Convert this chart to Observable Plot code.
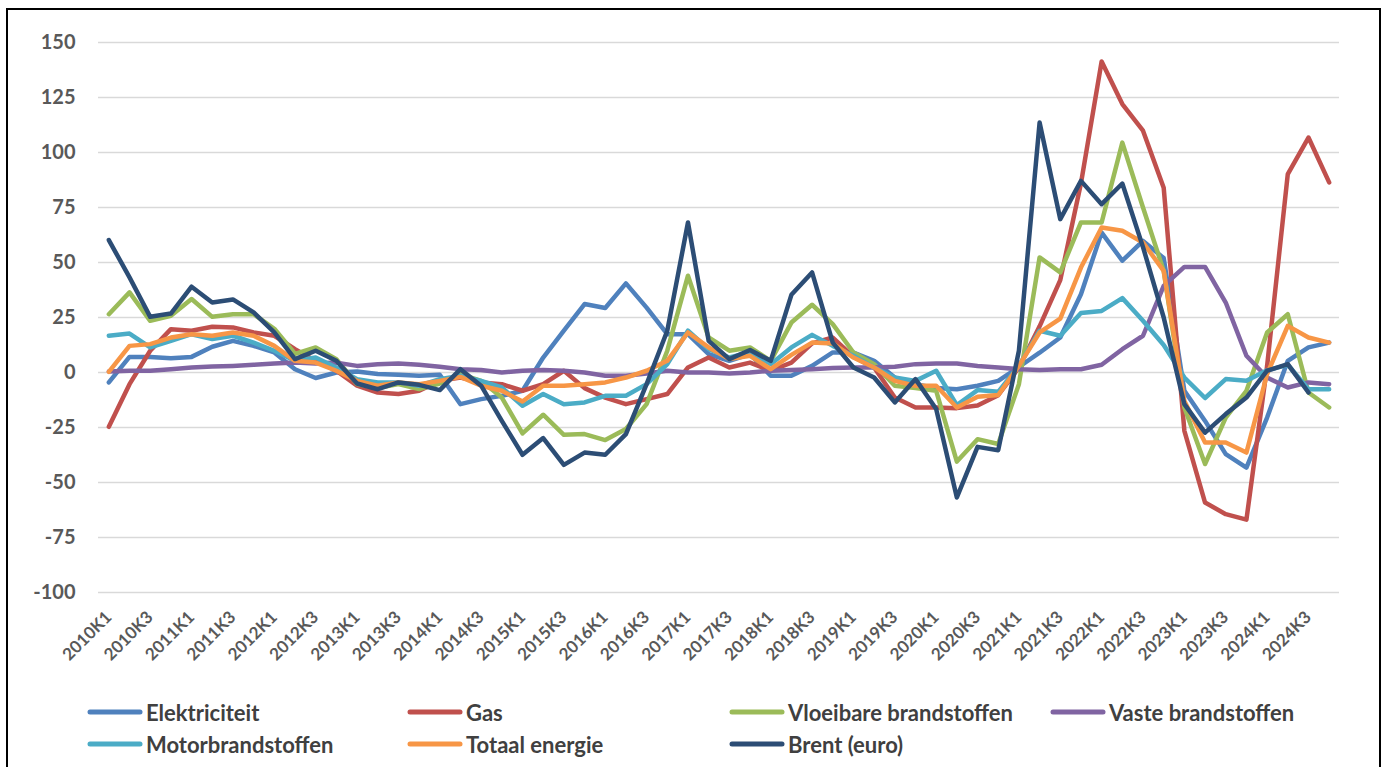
<!DOCTYPE html>
<html>
<head>
<meta charset="utf-8">
<script src="https://cdn.jsdelivr.net/npm/d3@7"></script>
<script src="https://cdn.jsdelivr.net/npm/@observablehq/plot@0.6"></script>
<style>
  html, body { margin: 0; padding: 0; background: #fff; overflow: hidden; }
  #wrap { position: relative; width: 1389px; height: 767px; }
  #chart { position: absolute; left: 0; top: 0; }
  #frame { position: absolute; left: 6px; top: 8px; width: 1375px; height: 800px; border: 2px solid #000; box-sizing: border-box; pointer-events: none; }
  .leg { position: absolute; display: flex; align-items: center; font-family: Lato, "Open Sans", sans-serif; font-weight: bold; font-size: 22px; color: #404040; white-space: nowrap; }
  .leg svg { margin-right: 3px; }
</style>
</head>
<body>
<div id="wrap">
  <div id="chart"></div>
  <div id="legend"></div>
  <div id="frame"></div>
</div>
<script>
const quarters = [
  "2010K1","2010K2","2010K3","2010K4","2011K1","2011K2","2011K3","2011K4",
  "2012K1","2012K2","2012K3","2012K4","2013K1","2013K2","2013K3","2013K4",
  "2014K1","2014K2","2014K3","2014K4","2015K1","2015K2","2015K3","2015K4",
  "2016K1","2016K2","2016K3","2016K4","2017K1","2017K2","2017K3","2017K4",
  "2018K1","2018K2","2018K3","2018K4","2019K1","2019K2","2019K3","2019K4",
  "2020K1","2020K2","2020K3","2020K4","2021K1","2021K2","2021K3","2021K4",
  "2022K1","2022K2","2022K3","2022K4","2023K1","2023K2","2023K3","2023K4",
  "2024K1","2024K2","2024K3","2024K4"
];
const xTickLabels = [
  "2010K1","2010K3","2011K1","2011K3","2012K1","2012K3","2013K1","2013K3",
  "2014K1","2014K3","2015K1","2015K3","2016K1","2016K3","2017K1","2017K3",
  "2018K1","2018K3","2019K1","2019K3","2020K1","2020K3","2021K1","2021K3",
  "2022K1","2022K3","2023K1","2023K3","2024K1","2024K3"
];
const yTicks = [-100, -75, -50, -25, 0, 25, 50, 75, 100, 125, 150];

const elektriciteit = [-4.5, 7.1, 7.1, 6.5, 7.1, 11.7, 14.4, 12.1, 9.1, 1.5, -2.5, 0,
  0.5, -0.7, -1, -1.5, -1, -14.4, -12.1, -10.6, -8.3, 6.8, 19, 31.1,
  29.3, 40.5, 29.5, 17.4, 17.4, 8.4, 5.3, 8.4, -1.5, -1.5, 3, 9.1,
  9.1, 5.3, -2.3, -5.3, -7.1, -7.6, -6, -3.8, 2.5, 9, 15.9, 35.6,
  63.6, 50.8, 59.8, 52, -8.3, -22, -37.1, -43.2, -20.5, 5.3, 11.4, 13.6];
const gas = [-24.7, -5.3, 9.9, 19.7, 19, 20.8, 20.5, 18.2, 16.7, 10.6, 5.3, 0.8,
  -6, -9.1, -9.8, -8.3, -3.8, -2.3, -4.5, -5.3, -8.3, -5.3, 0.8, -7.1,
  -11.4, -14.4, -12.1, -9.8, 2.3, 6.8, 2.3, 4.5, 0.8, 4.5, 13.2, 15.9,
  7.1, 2.3, -11.4, -15.9, -15.9, -16.2, -15, -10.3, 2.3, 21, 42, 86,
  141.4, 122, 109.9, 84, -26.5, -59.1, -64.4, -66.9, 3, 90.2, 106.8, 86.4];
const vloeibare = [26.5, 36.4, 23.5, 25.8, 33.4, 25.3, 26.5, 26.5, 19.9, 8.5, 11.4, 6,
  -5.3, -7.1, -5.3, -7.5, -5, -0.7, -3.8, -11.4, -27.7, -19.2, -28.3, -28,
  -30.7, -25.7, -14.4, 9.9, 44, 15.9, 9.9, 11.4, 5.3, 22.7, 30.8, 22,
  9.1, 3.8, -6, -7.1, -8.3, -40.5, -30.3, -32.5, -5.3, 52.3, 45.5, 68.2,
  68.2, 104.5, 75, 46.2, -15.9, -41.6, -20.5, -8.3, 18.2, 26.5, -9.1, -15.9];
const vaste = [0.5, 0.8, 0.8, 1.5, 2.3, 2.7, 3, 3.5, 4.1, 4.5, 4.1, 4.5,
  3, 3.8, 4.1, 3.5, 2.6, 1.5, 1.1, 0, 0.8, 1.1, 0.8, 0,
  -1.5, -1.5, -0.5, 0.8, 0, 0, -0.5, 0, 0.8, 1.1, 1.5, 2,
  2.3, 2.3, 2.6, 3.8, 4.1, 4.1, 3, 2.3, 1.5, 1.1, 1.5, 1.5,
  3.5, 10.6, 16.7, 39.4, 48, 48, 31.8, 7.6, -2.3, -6.8, -4.5, -5.3];
const motor = [16.7, 17.7, 11.4, 14.4, 17.4, 15.2, 16.7, 13.6, 9.9, 5.3, 6.8, 2.3,
  -3, -4.5, -4.5, -6, -3, -1.5, -3.8, -6.8, -15.1, -9.8, -14.4, -13.6,
  -10.6, -10.6, -5.3, 3.8, 19, 10.6, 6.8, 9.1, 3.8, 11.4, 17.1, 12.1,
  7.6, 2.3, -2.3, -3.8, 0.8, -14.8, -8, -8.8, 3, 19, 16.7, 27,
  28, 33.8, 23.5, 12.5, -2.3, -11.6, -3, -3.8, 1, 3.5, -7.6, -7.6];
const totaal = [0.3, 12.1, 12.9, 15.9, 17.4, 16.7, 18.2, 16.7, 12.1, 5.3, 4.5, 0.8,
  -3.8, -6, -4.5, -5.3, -3.8, -2, -6, -8.3, -13.2, -6, -6, -5.3,
  -4.5, -2.3, 0.8, 5.3, 18.2, 11.4, 6.1, 7.6, 1.5, 8, 13.6, 13.2,
  6.8, 2.3, -3.8, -6, -6, -15.9, -11, -10.2, 3, 18.2, 24.5, 47.7,
  65.9, 64.4, 59.1, 46.2, -12.9, -31.8, -31.8, -36.4, -0.7, 21.2, 15.9, 13.6];
const brent = [60.2, 43.2, 25.3, 26.8, 39, 31.8, 33.2, 27.3, 18.2, 6.1, 9.9, 5.3,
  -5, -7.6, -4.5, -5.6, -8, 1.5, -6, -22, -37.4, -29.8, -42, -36.4,
  -37.4, -28, -5.3, 19, 68.2, 14.4, 6.1, 10.2, 5.3, 35.3, 45.5, 13.6,
  2.3, -2.3, -13.6, -3, -16.6, -56.8, -33.8, -35.3, 9.9, 113.6, 69.7, 87.1,
  76.5, 85.9, 57, 25, -14.4, -27.3, -18.9, -11.4, 0.8, 3.8, -9.1, null];

const seriesNames = ["Elektriciteit", "Gas", "Vloeibare brandstoffen", "Vaste brandstoffen",
  "Motorbrandstoffen", "Totaal energie", "Brent (euro)"];
const seriesValues = [elektriciteit, gas, vloeibare, vaste, motor, totaal, brent];
const seriesColors = ["#4F81BD", "#C0504D", "#9BBB59", "#8064A2", "#4BACC6", "#F79646", "#2C4D75"];

const tables = seriesValues.map((vals, k) =>
  quarters.map((q, i) => ({ q, v: vals[i], s: seriesNames[k] })));

const W = 1389, H = 680;
const marks = [
  Plot.ruleY(yTicks, { stroke: "#D9D9D9", strokeWidth: 1.4 }),
  Plot.axisY(yTicks, {
    tickSize: 0, tickPadding: 23, fontSize: 20, fill: "#595959",
    tickFormat: d => String(d)
  }),
  Plot.axisX(xTickLabels, {
    tickSize: 0, tickPadding: 22, tickRotate: -45, fontSize: 17, fill: "#595959"
  })
];
tables.forEach((t, k) => {
  marks.push(Plot.line(t, {
    x: "q", y: "v", stroke: seriesColors[k], strokeWidth: 4.5,
    strokeLinejoin: "round", strokeLinecap: "round"
  }));
});

const chart = Plot.plot({
  width: W, height: H,
  marginLeft: 98, marginRight: 50, marginTop: 42, marginBottom: 88,
  x: { type: "point", domain: quarters, padding: 0.5, label: null },
  y: { domain: [-100, 150], label: null },
  style: { fontFamily: "Lato, 'Open Sans', sans-serif", fontWeight: "bold", background: "transparent" },
  marks
});
document.getElementById("chart").appendChild(chart);

// Legend
const legendPos = [
  [87, 712], [407, 712], [729, 712], [1050, 712],
  [87, 744], [407, 744], [729, 744]
];
const legendOrder = [0, 1, 2, 3, 4, 5, 6];
const legend = document.getElementById("legend");
legendOrder.forEach((k, j) => {
  const [lx, ly] = legendPos[j];
  const el = document.createElement("div");
  el.className = "leg";
  el.style.left = lx + "px";
  el.style.top = (ly - 14) + "px";
  el.style.height = "28px";
  el.innerHTML = `<svg width="56" height="10"><line x1="3" y1="5" x2="53" y2="5" stroke="${seriesColors[k]}" stroke-width="5" stroke-linecap="round"/></svg><span>${seriesNames[k]}</span>`;
  legend.appendChild(el);
});
</script>
</body>
</html>
